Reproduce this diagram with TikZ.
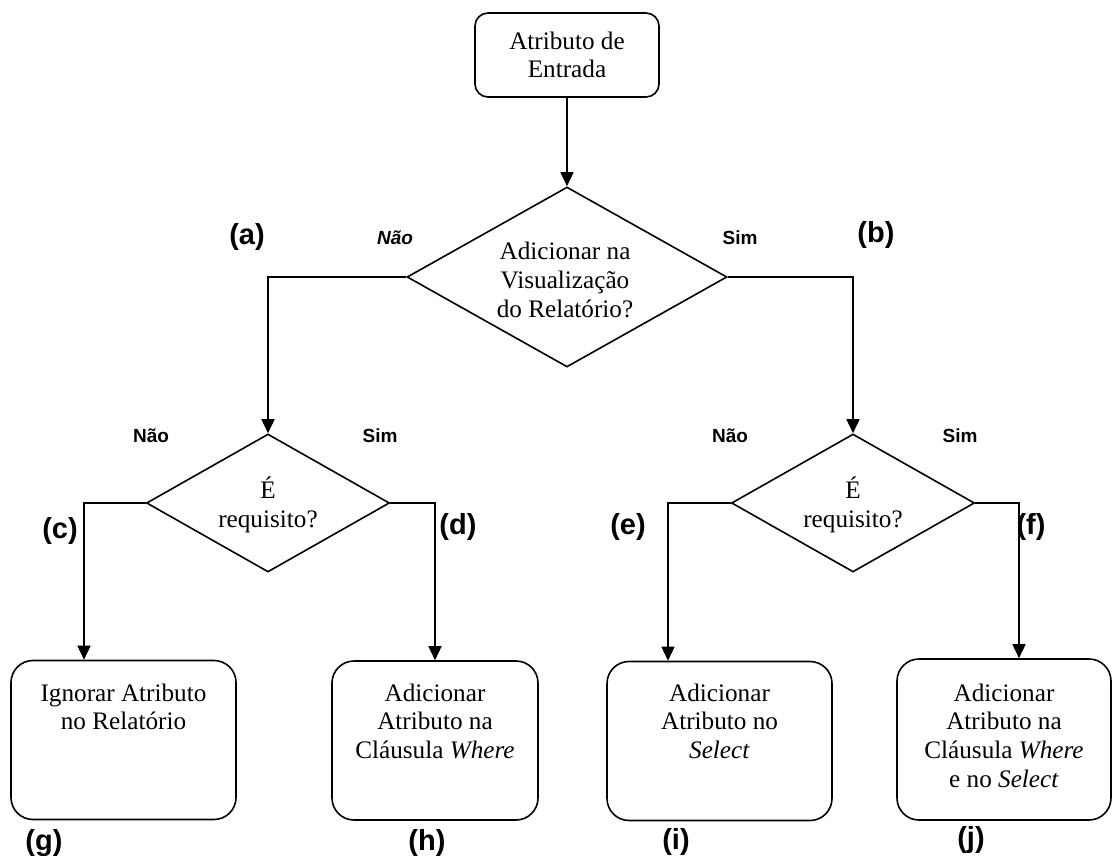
\documentclass[tikz,border=0pt]{standalone}
\usepackage{fontspec}
\setmainfont{Liberation Serif}
\newfontfamily\labelfont{Liberation Sans}
\usetikzlibrary{shapes.geometric,arrows.meta}
\begin{document}
\begin{tikzpicture}[x=1pt,y=-1pt,
  line width=1.6pt,
  every node/.style={font=\fontsize{25.2}{28.7}\selectfont},
  startbox/.style={draw, rounded corners=13pt, minimum width=184pt,
    minimum height=84pt, inner sep=0pt, align=center},
  endbox/.style={draw, rounded corners=22pt, minimum height=159pt, inner sep=0pt},
  decision/.style={draw, diamond, inner sep=0pt},
  flowtext/.style={align=center, inner sep=0pt},
  answer/.style={inner sep=0pt, font=\labelfont\bfseries\fontsize{19}{21}\selectfont},
  tag/.style={inner sep=0pt, font=\labelfont\bfseries\fontsize{29}{31}\selectfont},
  flow/.style={-{Triangle[length=14pt,width=13pt]}}]

\path[fill=white] (0,0) rectangle (1112,856);
\useasboundingbox (0,0) rectangle (1112,856);

% start
\node[startbox] (start) at (567,55) {Atributo de\\Entrada};

% decisions
\node[decision, minimum width=320pt, minimum height=180pt] (q1) at (567,277) {};
\node[flowtext] (q1t) at (565,280) {Adicionar na\\Visualização\\do Relatório?};
\node[decision, minimum width=243pt, minimum height=138pt] (q2) at (268,503) {};
\node[flowtext] (q2t) at (268,505) {É\\requisito?};
\node[decision, minimum width=243pt, minimum height=138pt] (q3) at (853,503) {};
\node[flowtext] (q3t) at (853,505) {É\\requisito?};

% outcomes
\node[endbox, minimum width=225pt] (g) at (123.5,740) {};
\node[flowtext, anchor=north] (gt) at (123.5,683) {Ignorar Atributo\\no Relatório};
\node[endbox, minimum width=206pt] (h) at (435,740.5) {};
\node[flowtext, anchor=north] (ht) at (435,683) {Adicionar\\Atributo na\\Cláusula \textit{Where}};
\node[endbox, minimum width=225pt] (i) at (719.5,741) {};
\node[flowtext, anchor=north] (it) at (719.5,683) {Adicionar\\Atributo no\\\textit{Select}};
\node[endbox, minimum width=214pt, minimum height=161pt] (j) at (1004,739.5) {};
\node[flowtext, anchor=north] (jt) at (1004,683) {Adicionar\\Atributo na\\Cláusula \textit{Where}\\e no \textit{Select}};

% connectors
\draw[flow] (start) -- (q1);
\draw[flow] (q1.west) -| (q2.north);
\draw[flow] (q1.east) -| (q3.north);
\draw[flow] (q2.west) -| ([xshift=-39.5pt]g.north);
\draw[flow] (q2.east) -| (h.north);
\draw[flow] (q3.west) -| ([xshift=-51.5pt]i.north);
\draw[flow] (q3.east) -| ([xshift=15pt]j.north);

% answers
\node[answer] (n1) at (395,238) {\itshape Não};
\node[answer] (s1) at (740,238) {Sim};
\node[answer] (n2) at (151,436) {Não};
\node[answer] (s2) at (380,436) {Sim};
\node[answer] (n3) at (730,436) {Não};
\node[answer] (s3) at (960,436) {Sim};

% tags
\node[tag] (la) at (247,237) {(a)};
\node[tag] (lb) at (876,235) {(b)};
\node[tag] (lc) at (60,531) {(c)};
\node[tag] (ld) at (458,527) {(d)};
\node[tag] (le) at (628,527) {(e)};
\node[tag] (lf) at (1031,527) {(f)};
\node[tag] (lg) at (44,843) {(g)};
\node[tag] (lh) at (427,843) {(h)};
\node[tag] (li) at (676,842) {(i)};
\node[tag] (lj) at (971,840) {(j)};
\end{tikzpicture}
\end{document}
